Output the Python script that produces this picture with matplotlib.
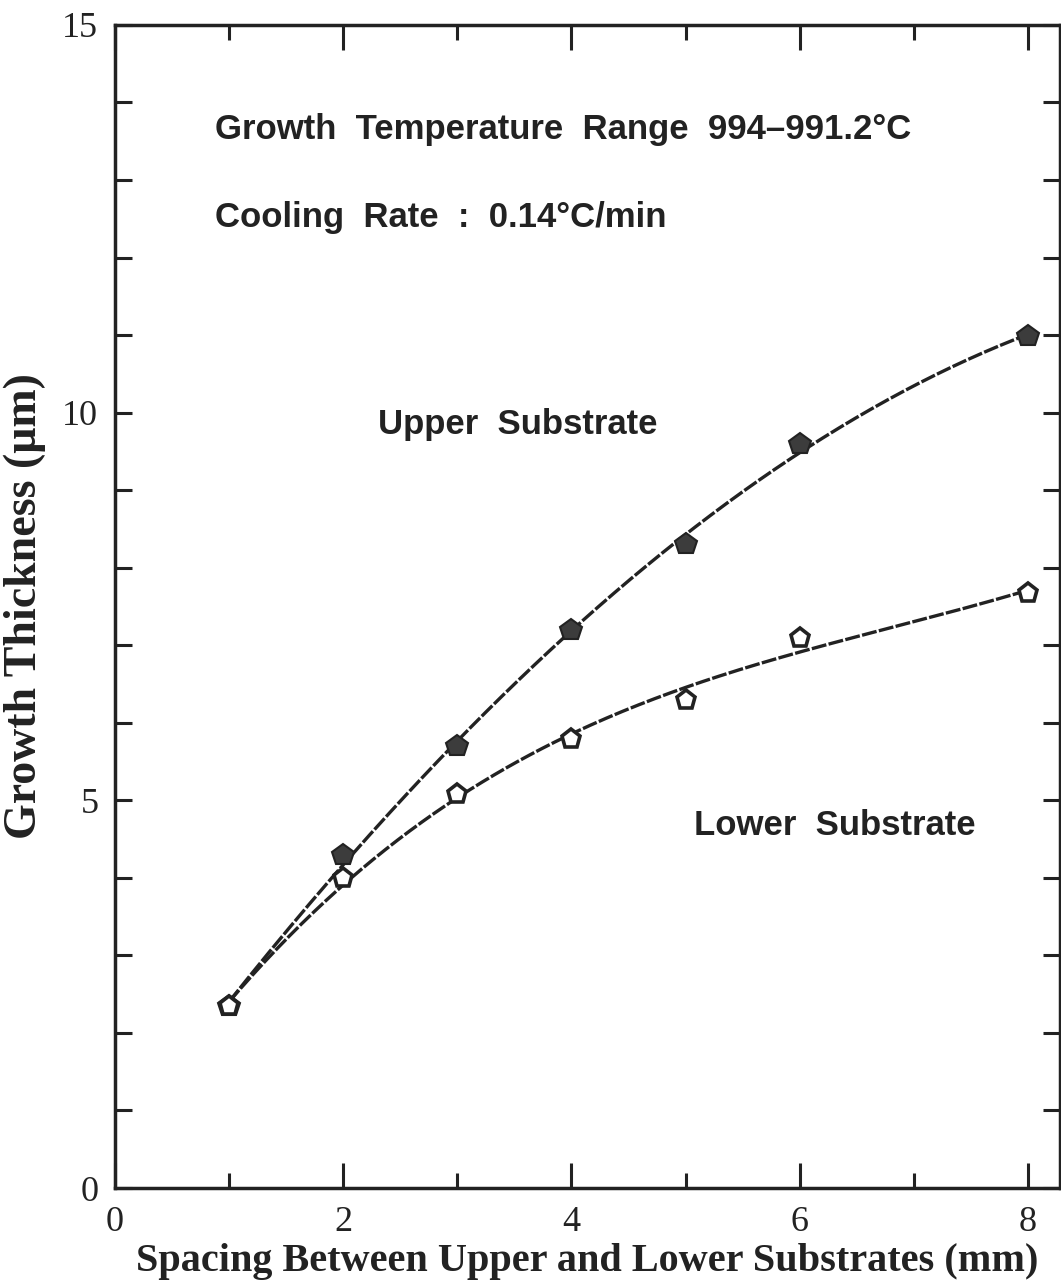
import numpy as np
import matplotlib
matplotlib.use("Agg")
import matplotlib.pyplot as plt
from matplotlib.ticker import MultipleLocator

# values
spacing = [1, 2, 3, 4, 5, 6, 8]
upper_thickness = [2.35, 4.30, 5.70, 7.20, 8.31, 9.60, 10.99]
lower_thickness = [2.35, 4.00, 5.08, 5.79, 6.29, 7.09, 7.68]
x_ticks = [0, 2, 4, 6, 8]
y_ticks = [0, 5, 10, 15]

SERIF = "Liberation Serif"
SANS = "Liberation Sans"
INK = "#222222"

fig = plt.figure(figsize=(10.61, 12.86), dpi=100)
ax = fig.add_axes([0.1084, 0.0762, 0.8906, 0.9044])

# smooth fitted curves through the measured points
xs = np.linspace(min(spacing), max(spacing), 200)
up_fit = np.polyval(np.polyfit(spacing, upper_thickness, 3), xs)
low_fit = np.polyval(np.polyfit(spacing, lower_thickness, 3), xs)

ax.plot(xs, up_fit, color=INK, lw=2.4, dashes=(4.5, 0.7), zorder=2)
ax.plot(xs, low_fit, color=INK, lw=2.4, dashes=(4.5, 0.7), zorder=2)

ax.plot(spacing, upper_thickness, linestyle="none", marker="p", ms=16,
        mfc="#3c3c3c", mec=INK, mew=1.5, zorder=3)
ax.plot(spacing, lower_thickness, linestyle="none", marker="p", ms=14,
        mfc="white", mec=INK, mew=2.6, zorder=3)

ax.set_xlim(0, 8.28)
ax.set_ylim(0, 15)
ax.set_xticks(x_ticks)
ax.set_yticks(y_ticks)
ax.xaxis.set_minor_locator(MultipleLocator(1))
ax.yaxis.set_minor_locator(MultipleLocator(1))

ax.tick_params(axis="both", which="both", direction="in", top=True, right=True,
               width=2.2, color=INK)
ax.tick_params(axis="x", which="major", length=18, pad=13)
ax.tick_params(axis="x", which="minor", length=11)
ax.tick_params(axis="y", which="major", length=12, pad=12)
ax.tick_params(axis="y", which="minor", length=12)

for lab in ax.get_xticklabels() + ax.get_yticklabels():
    lab.set_fontfamily(SERIF)
    lab.set_fontsize(26)
    lab.set_color(INK)

for sp in ax.spines.values():
    sp.set_linewidth(2.5)
    sp.set_color(INK)

ax.set_xlabel("Spacing Between Upper and Lower Substrates (mm)",
              fontfamily=SERIF, fontweight="bold", fontsize=29, color=INK,
              labelpad=3)
ax.set_ylabel("Growth Thickness (\u03bcm)", fontfamily=SERIF, fontweight="bold",
              fontsize=33, color=INK, labelpad=12)

txt = dict(fontfamily=SANS, fontweight="bold", fontsize=25, color=INK,
           va="center", ha="left")
ax.text(0.877, 13.65, "Growth  Temperature  Range  994\u2013991.2\u00b0C", **txt)
ax.text(0.877, 12.52, "Cooling  Rate  :  0.14\u00b0C/min", **txt)
ax.text(2.305, 9.85, "Upper  Substrate", **txt)
ax.text(5.07, 4.68, "Lower  Substrate", **txt)

fig.savefig("out.png", dpi=100)
